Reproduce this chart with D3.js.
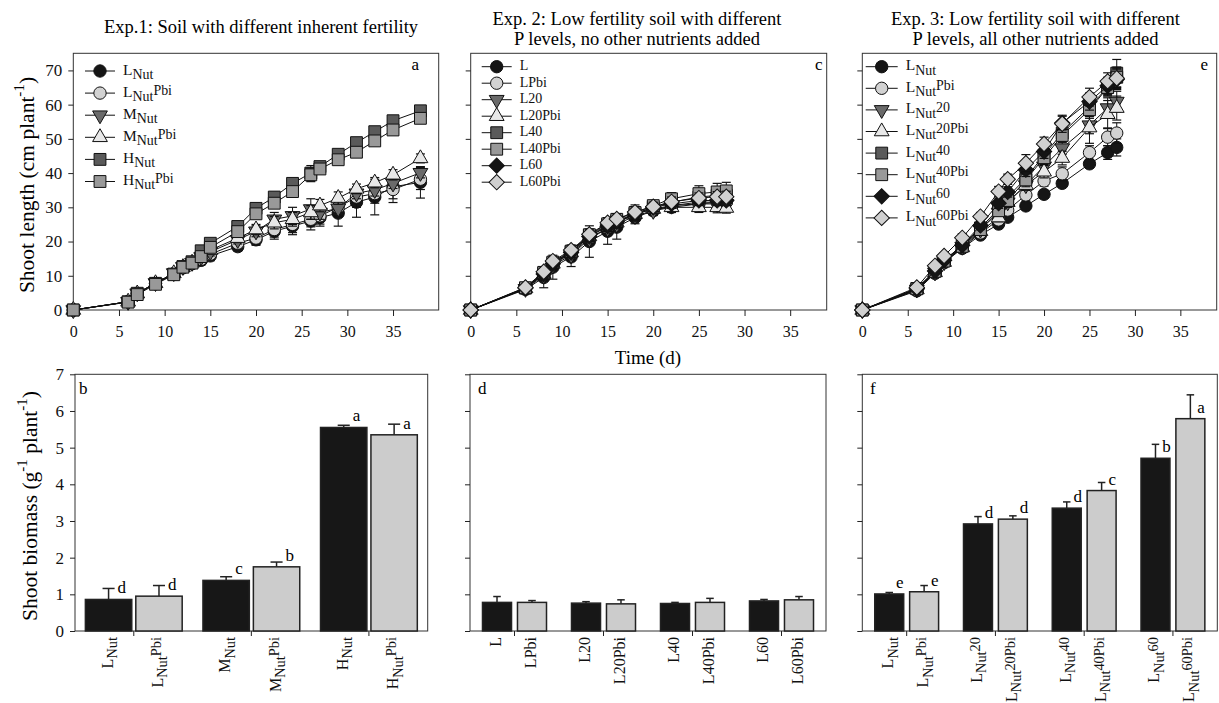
<!DOCTYPE html>
<html>
<head>
<meta charset="utf-8">
<script src="https://cdn.jsdelivr.net/npm/d3@7"></script>
<style>
  body { margin: 0; background: #fff; }
  svg { font-family: "Liberation Serif", "Times New Roman", serif; }
</style>
</head>
<body>
<script>

// ---- data: shoot length over time (top row) ----
var exp1Times = [0, 6, 7, 9, 11, 12, 13, 14, 15, 18, 20, 22, 24, 26, 27, 29, 31, 33, 35, 38];
var exp1Names = ["L_{Nut}", "L_{Nut}^{Pbi}", "M_{Nut}", "M_{Nut}^{Pbi}", "H_{Nut}", "H_{Nut}^{Pbi}"];
var exp1Length = [
  [0, 2.4, 4.8, 7.8, 10.5, 12.3, 13.5, 14.5, 15.8, 18.5, 20.5, 23.0, 24.5, 26.0, 27.0, 28.3, 31.5, 33.0, 36.0, 37.3],
  [0, 2.4, 4.8, 7.8, 10.6, 12.4, 13.6, 14.8, 16.3, 19.5, 21.0, 23.5, 25.0, 26.5, 27.5, 30.0, 33.0, 34.0, 35.2, 38.2],
  [0, 2.4, 4.9, 7.9, 10.8, 12.6, 13.8, 15.5, 17.0, 20.5, 23.0, 26.5, 27.5, 29.5, 28.5, 29.7, 34.1, 35.1, 37.0, 40.1],
  [0, 2.4, 4.8, 7.8, 10.7, 12.5, 13.8, 15.8, 17.5, 21.0, 23.5, 25.5, 26.5, 28.5, 30.5, 32.7, 35.4, 37.2, 39.5, 44.3],
  [0, 2.4, 4.9, 7.8, 10.5, 12.7, 14.1, 17.3, 19.5, 24.4, 29.7, 33.0, 37.0, 40.0, 41.9, 45.5, 48.9, 52.1, 55.3, 58.2],
  [0, 2.3, 4.5, 7.5, 10.3, 12.5, 13.7, 15.6, 18.3, 22.9, 28.1, 31.2, 34.6, 39.5, 41.2, 43.9, 46.1, 49.4, 52.6, 56.0]
];
var exp1LengthErr = [
  [0, 0.3, 0.5, 0.8, 1.0, 1.0, 1.2, 1.3, 1.4, 1.3, 1.6, 2.3, 2.5, 2.6, 2.5, 3.8, 4.4, 5.2, 3.5, 4.6],
  [0, 0.3, 0.5, 0.8, 1.0, 1.0, 1.2, 1.3, 1.4, 1.3, 1.8, 2.2, 2.4, 2.2, 2.4, 2.8, 3.0, 2.8, 3.8, 3.0],
  [0, 0.3, 0.4, 0.7, 0.9, 0.9, 1.0, 1.1, 1.2, 1.2, 1.6, 2.0, 2.5, 3.0, 2.0, 2.2, 1.6, 1.8, 1.5, 1.5],
  [0, 0.3, 0.4, 0.7, 0.9, 0.9, 1.0, 1.1, 1.2, 1.3, 1.5, 1.8, 2.0, 2.0, 1.8, 1.8, 1.4, 1.5, 1.5, 1.3],
  [0, 0.3, 0.5, 0.6, 0.8, 0.9, 1.0, 1.2, 1.2, 1.3, 1.4, 1.4, 1.3, 2.2, 1.3, 1.2, 1.0, 1.0, 1.0, 1.0],
  [0, 0.3, 0.5, 0.6, 0.8, 0.9, 1.0, 1.2, 1.2, 1.3, 1.4, 1.4, 1.3, 2.0, 1.3, 1.2, 1.0, 1.0, 1.0, 1.0]
];

var exp2Times = [0, 6, 8, 9, 11, 13, 15, 16, 18, 20, 22, 25, 27, 28];
var exp2Names = ["L", "LPbi", "L20", "L20Pbi", "L40", "L40Pbi", "L60", "L60Pbi"];
var exp2Length = [
  [0, 6.0, 9.5, 12.5, 15.5, 20.0, 23.0, 24.2, 27.0, 29.0, 30.0, 31.0, 31.5, 31.5],
  [0, 6.3, 10.5, 13.3, 16.5, 21.0, 24.0, 25.5, 28.0, 29.5, 30.5, 31.5, 31.5, 31.5],
  [0, 6.2, 10.0, 13.0, 16.0, 20.8, 23.8, 25.0, 27.5, 29.0, 30.5, 31.0, 31.0, 31.0],
  [0, 6.3, 10.5, 13.5, 16.8, 21.5, 24.5, 25.5, 28.0, 29.5, 30.0, 30.0, 30.0, 29.8],
  [0, 6.4, 10.8, 13.8, 17.0, 21.8, 24.8, 26.0, 28.2, 30.0, 31.5, 33.0, 33.5, 33.5],
  [0, 6.5, 11.0, 14.0, 17.2, 22.0, 25.2, 26.5, 28.5, 30.5, 32.5, 34.0, 34.5, 34.8],
  [0, 6.4, 10.5, 13.5, 16.8, 21.5, 24.5, 25.8, 28.0, 30.0, 31.0, 32.0, 32.0, 32.0],
  [0, 6.6, 11.2, 14.3, 17.5, 22.1, 25.5, 26.6, 28.6, 30.2, 31.6, 32.7, 33.1, 33.1]
];
var exp2LengthErr = [
  [0, 0.6, 3.0, 3.5, 2.8, 4.6, 3.8, 3.5, 1.8, 1.4, 1.5, 1.6, 1.6, 1.6],
  [0, 0.5, 1.2, 1.2, 1.5, 1.5, 1.5, 1.8, 1.5, 1.3, 1.5, 1.6, 1.8, 1.8],
  [0, 0.5, 1.2, 1.2, 1.5, 1.5, 1.5, 1.6, 1.5, 1.3, 1.4, 1.5, 1.6, 1.6],
  [0, 0.5, 1.0, 1.2, 1.4, 1.5, 1.5, 1.6, 1.5, 1.3, 1.5, 1.5, 1.6, 1.5],
  [0, 0.5, 1.0, 1.1, 1.4, 1.4, 1.5, 1.8, 2.0, 1.2, 1.5, 1.8, 1.8, 1.8],
  [0, 0.5, 1.0, 1.1, 1.4, 1.6, 1.8, 1.6, 2.2, 1.4, 1.8, 2.3, 2.5, 2.5],
  [0, 0.5, 1.0, 1.2, 1.4, 1.5, 1.5, 1.5, 1.5, 1.3, 1.3, 1.5, 1.5, 1.5],
  [0, 0.5, 1.0, 1.2, 1.5, 1.5, 1.5, 1.5, 1.5, 1.3, 1.4, 1.5, 1.5, 1.6]
];

var exp3Times = [0, 6, 8, 9, 11, 13, 15, 16, 18, 20, 22, 25, 27, 28];
var exp3Names = ["L_{Nut}", "L_{Nut}^{Pbi}", "L_{Nut}^{20}", "L_{Nut}^{20Pbi}",
                 "L_{Nut}^{40}", "L_{Nut}^{40Pbi}", "L_{Nut}^{60}", "L_{Nut}^{60Pbi}"];
var exp3Length = [
  [0, 5.6, 10.7, 13.8, 18.0, 21.9, 25.1, 27.1, 30.4, 33.8, 37.0, 42.7, 46.0, 47.5],
  [0, 5.8, 11.0, 14.0, 18.2, 22.5, 26.3, 29.2, 33.6, 37.7, 39.8, 46.0, 50.5, 51.7],
  [0, 6.0, 11.0, 14.0, 18.5, 23.5, 28.5, 31.5, 36.5, 42.0, 47.3, 54.0, 59.0, 60.9],
  [0, 6.0, 11.0, 14.0, 18.3, 23.0, 27.0, 31.5, 36.5, 40.4, 44.4, 53.3, 57.2, 59.0],
  [0, 6.3, 11.5, 14.5, 18.8, 24.0, 29.5, 33.0, 38.5, 45.3, 51.7, 59.3, 65.1, 69.2],
  [0, 6.2, 11.3, 14.3, 18.6, 23.5, 29.0, 32.0, 38.0, 44.5, 51.0, 58.5, 65.0, 68.0],
  [0, 6.2, 11.4, 14.5, 18.9, 24.7, 31.2, 34.5, 41.0, 46.3, 54.6, 60.9, 65.5, 67.4],
  [0, 6.6, 12.9, 15.8, 21.1, 27.3, 34.6, 38.2, 42.9, 48.5, 54.4, 62.2, 66.8, 67.7]
];
var exp3LengthErr = [
  [0, 0.5, 0.9, 0.8, 1.0, 1.0, 1.2, 1.0, 1.0, 1.2, 1.0, 1.0, 2.0, 2.5],
  [0, 0.5, 0.8, 0.8, 1.0, 1.0, 1.2, 1.5, 1.5, 1.5, 2.0, 2.0, 2.5, 3.0],
  [0, 0.5, 0.8, 0.8, 1.0, 1.2, 1.2, 1.5, 1.5, 1.5, 1.8, 2.5, 3.0, 3.0],
  [0, 0.5, 0.8, 0.8, 1.0, 1.2, 1.2, 1.5, 1.5, 1.8, 2.0, 4.6, 4.0, 3.5],
  [0, 0.5, 0.8, 0.8, 1.0, 1.2, 1.5, 1.5, 2.0, 2.0, 2.5, 2.5, 2.5, 4.0],
  [0, 0.5, 0.8, 0.8, 1.0, 1.2, 1.5, 1.5, 2.0, 2.0, 2.0, 2.5, 2.5, 3.0],
  [0, 0.5, 0.8, 0.8, 1.0, 1.2, 1.5, 1.5, 2.0, 2.0, 2.0, 2.5, 2.5, 3.0],
  [0, 0.5, 0.8, 0.8, 1.2, 1.2, 1.5, 1.5, 2.5, 2.0, 2.5, 2.6, 2.5, 3.0]
];

var lengthTicks = [0, 10, 20, 30, 40, 50, 60, 70];
var timeTicks = [0, 5, 10, 15, 20, 25, 30, 35];

// ---- data: shoot biomass (bottom row) ----
var exp1BarNames = ["L_{Nut}", "L_{Nut}^{Pbi}", "M_{Nut}", "M_{Nut}^{Pbi}", "H_{Nut}", "H_{Nut}^{Pbi}"];
var exp1Biomass = [0.86, 0.95, 1.38, 1.75, 5.55, 5.35];
var exp1BiomassErr = [0.30, 0.29, 0.10, 0.13, 0.06, 0.29];
var exp1Letters = ["d", "d", "c", "b", "a", "a"];

var exp2BarNames = ["L", "LPbi", "L20", "L20Pbi", "L40", "L40Pbi", "L60", "L60Pbi"];
var exp2Biomass = [0.78, 0.78, 0.76, 0.74, 0.75, 0.78, 0.82, 0.85];
var exp2BiomassErr = [0.16, 0.05, 0.04, 0.11, 0.03, 0.11, 0.04, 0.09];

var exp3BarNames = ["L_{Nut}", "L_{Nut}^{Pbi}", "L_{Nut}^{20}", "L_{Nut}^{20Pbi}",
                    "L_{Nut}^{40}", "L_{Nut}^{40Pbi}", "L_{Nut}^{60}", "L_{Nut}^{60Pbi}"];
var exp3Biomass = [1.01, 1.07, 2.92, 3.05, 3.35, 3.83, 4.71, 5.79];
var exp3BiomassErr = [0.04, 0.17, 0.20, 0.09, 0.17, 0.22, 0.38, 0.65];
var exp3Letters = ["e", "e", "d", "d", "d", "c", "b", "a"];

var biomassTicks = [0, 1, 2, 3, 4, 5, 6, 7];

// ---- marker styles ----
var shapes6 = ["circle", "circle", "triDown", "triUp", "square", "square"];
var fills6 = ["#151515", "#d2d2d2", "#6a6a6a", "#e8e8e8", "#5a5a5a", "#999999"];
var shapes8 = ["circle", "circle", "triDown", "triUp", "square", "square", "diamond", "diamond"];
var fills8 = ["#151515", "#d2d2d2", "#6a6a6a", "#e8e8e8", "#5a5a5a", "#999999", "#151515", "#d0d0d0"];

// text shifts for index labels (legend / categories) and for axis titles
var labelScript = {sub: 0.28, sup: -0.12, scale: 0.9};
var titleScript = {sub: 0.3, sup: -0.45, scale: 0.7};


window.onload = function() {
  main();
};


function main() {

  var svg = d3.select("body")
              .append("svg")
              .attr("width", 1219)
              .attr("height", 703);

  svg.append("rect")
     .attr("width", 1219)
     .attr("height", 703)
     .attr("fill", "#fff");

  // top row: line plots
  var topPanels = [
    {times: exp1Times, vals: exp1Length, err: exp1LengthErr, names: exp1Names, shapes: shapes6, fills: fills6,
     left: 73.3, right: 438.7, xMax: 40, tag: "a", tagX: 411.5, labels: true,
     leg: {x: 100, y: 71, step: 22.1, font: 15.5, line: 15}},
    {times: exp2Times, vals: exp2Length, err: exp2LengthErr, names: exp2Names, shapes: shapes8, fills: fills8,
     left: 470.7, right: 826.7, xMax: 39, tag: "c", tagX: 815, labels: false,
     leg: {x: 496.7, y: 66.7, step: 16.5, font: 14, line: 15}},
    {times: exp3Times, vals: exp3Length, err: exp3LengthErr, names: exp3Names, shapes: shapes8, fills: fills8,
     left: 862.3, right: 1216.7, xMax: 39, tag: "e", tagX: 1200.5, labels: false,
     leg: {x: 881.7, y: 66.7, step: 21.6, font: 15.5, line: 16}}
  ];
  topPanels.forEach(function(p) {
    linePanel(svg, p);
  });

  // bottom row: bar charts
  var bottomPanels = [
    {names: exp1BarNames, vals: exp1Biomass, err: exp1BiomassErr, letters: exp1Letters,
     left: 75, right: 427.7, padIn: 0.08, padOut: 0.206, tag: "b", tagX: 79, labels: true},
    {names: exp2BarNames, vals: exp2Biomass, err: exp2BiomassErr, letters: null,
     left: 470, right: 826, padIn: 0.17, padOut: 0.357, tag: "d", tagX: 478, labels: false},
    {names: exp3BarNames, vals: exp3Biomass, err: exp3BiomassErr, letters: exp3Letters,
     left: 862.3, right: 1217.3, padIn: 0.17, padOut: 0.357, tag: "f", tagX: 870, labels: false}
  ];
  bottomPanels.forEach(function(p) {
    barPanel(svg, p);
  });

  // titles
  svg.append("text").attr("x", 261).attr("y", 33).attr("text-anchor", "middle")
     .style("font-size", "18.5px").text("Exp.1: Soil with different inherent fertility");
  svg.append("text").attr("x", 637).attr("y", 25).attr("text-anchor", "middle")
     .style("font-size", "18.5px").text("Exp. 2: Low fertility soil with different");
  svg.append("text").attr("x", 637).attr("y", 45).attr("text-anchor", "middle")
     .style("font-size", "18.5px").text("P levels, no other nutrients added");
  svg.append("text").attr("x", 1035.5).attr("y", 25).attr("text-anchor", "middle")
     .style("font-size", "18.5px").text("Exp. 3: Low fertility soil with different");
  svg.append("text").attr("x", 1035.5).attr("y", 45).attr("text-anchor", "middle")
     .style("font-size", "18.5px").text("P levels, all other nutrients added");

  // axis titles
  var yl1 = svg.append("text")
               .attr("transform", "translate(34,185) rotate(-90)")
               .attr("text-anchor", "middle")
               .style("font-size", "21.5px");
  richText(yl1, "Shoot length (cm plant^{-1})", 21.5, titleScript);

  var yl2 = svg.append("text")
               .attr("transform", "translate(37,506) rotate(-90)")
               .attr("text-anchor", "middle")
               .style("font-size", "21.5px");
  richText(yl2, "Shoot biomass (g^{-1} plant^{-1})", 21.5, titleScript);

  svg.append("text").attr("x", 648).attr("y", 364).attr("text-anchor", "middle")
     .style("font-size", "19px").text("Time (d)");
};


function richText(textSel, str, fs, script) {
  /*
  Appends tspans to a text element, "_{..}" is subscript
  and "^{..}" is superscript.
  */
  var re = /([_^])\{([^}]*)\}|([^_^]+)/g;
  var m;
  var shift = 0;
  while ((m = re.exec(str)) !== null) {
    var target = 0;
    var size = fs;
    var txt = m[3];
    if (m[1] === "_") {
      target = script.sub * fs;
      size = fs * script.scale;
      txt = m[2];
    } else if (m[1] === "^") {
      target = script.sup * fs;
      size = fs * script.scale;
      txt = m[2];
    }
    textSel.append("tspan")
           .attr("dy", target - shift)
           .style("font-size", size + "px")
           .text(txt);
    shift = target;
  }
};


function markerPath(shape) {
  // symbol paths for the markers
  if (shape === "circle") return d3.symbol(d3.symbolCircle, 120)();
  if (shape === "square") return d3.symbol(d3.symbolSquare, 140)();
  if (shape === "diamond") return d3.symbol(d3.symbolSquare, 118)();
  return d3.symbol(d3.symbolTriangle, 95)();
};


function markerRotate(shape) {
  if (shape === "triDown") return 180;
  if (shape === "diamond") return 45;
  return 0;
};


function styleAxis(g, fs) {
  g.select(".domain").remove();
  g.selectAll("line").attr("stroke", "#222");
  g.selectAll("text")
   .attr("fill", "#111")
   .style("font-family", "'Liberation Serif', 'Times New Roman', serif")
   .style("font-size", fs + "px");
};


function linePanel(svg, p) {
  /*
  Draws one shoot length panel with lines, error bars,
  markers and legend.
  */
  var top = 53.3;
  var bottom = 310;
  var x = d3.scaleLinear().domain([0, p.xMax]).range([p.left, p.right]);
  var y = d3.scaleLinear().domain([0, 75]).range([bottom, top]);

  // frame
  svg.append("rect")
     .attr("x", p.left).attr("y", top)
     .attr("width", p.right - p.left).attr("height", bottom - top)
     .attr("fill", "none").attr("stroke", "#333").attr("stroke-width", 1);

  // axes
  var xAxis = svg.append("g")
                 .attr("transform", "translate(0," + bottom + ")")
                 .call(d3.axisBottom(x).tickValues(timeTicks).tickSize(6).tickPadding(10)
                         .tickFormat(d3.format("d")));
  styleAxis(xAxis, 16);

  var yAx = d3.axisLeft(y).tickValues(lengthTicks).tickSize(5).tickPadding(6)
              .tickFormat(d3.format("d"));
  if (!p.labels) yAx.tickFormat("");
  var yAxis = svg.append("g")
                 .attr("transform", "translate(" + p.left + ",0)")
                 .call(yAx);
  styleAxis(yAxis, 17);

  var line = d3.line()
               .x(function(d, i) { return x(p.times[i]); })
               .y(function(d) { return y(d); });

  p.vals.forEach(function(series, s) {
    var g = svg.append("g");

    g.append("path")
     .attr("d", line(series))
     .attr("fill", "none")
     .attr("stroke", "#111")
     .attr("stroke-width", 1);

    // error bars
    series.forEach(function(v, i) {
      var e = p.err[s][i];
      if (!e) return;
      var cx = x(p.times[i]);
      g.append("line").attr("x1", cx).attr("x2", cx)
       .attr("y1", y(v - e)).attr("y2", y(v + e))
       .attr("stroke", "#111").attr("stroke-width", 1);
      [v - e, v + e].forEach(function(w) {
        g.append("line").attr("x1", cx - 4.5).attr("x2", cx + 4.5)
         .attr("y1", y(w)).attr("y2", y(w))
         .attr("stroke", "#111").attr("stroke-width", 1.2);
      });
    });

    // markers
    g.selectAll(".m")
     .data(series)
     .enter()
     .append("path")
     .attr("d", markerPath(p.shapes[s]))
     .attr("transform", function(d, i) {
       return "translate(" + x(p.times[i]) + "," + y(d) + ") rotate(" + markerRotate(p.shapes[s]) + ")";
     })
     .attr("fill", p.fills[s])
     .attr("stroke", "#111")
     .attr("stroke-width", 1);
  });

  // legend
  p.names.forEach(function(name, s) {
    var ly = p.leg.y + s * p.leg.step;
    svg.append("line")
       .attr("x1", p.leg.x - p.leg.line).attr("x2", p.leg.x + p.leg.line)
       .attr("y1", ly).attr("y2", ly)
       .attr("stroke", "#111").attr("stroke-width", 1);
    svg.append("path")
       .attr("d", markerPath(p.shapes[s]))
       .attr("transform", "translate(" + p.leg.x + "," + ly + ") rotate(" + markerRotate(p.shapes[s]) + ")")
       .attr("fill", p.fills[s])
       .attr("stroke", "#111")
       .attr("stroke-width", 1);
    var t = svg.append("text")
               .attr("x", p.leg.x + p.leg.line + 8)
               .attr("y", ly + 3.5)
               .style("font-size", p.leg.font + "px")
               .attr("fill", "#111");
    richText(t, name, p.leg.font, labelScript);
  });

  // panel tag
  svg.append("text").attr("x", p.tagX).attr("y", 70)
     .style("font-size", "17px").text(p.tag);
};


function barPanel(svg, p) {
  /*
  Draws one shoot biomass panel with grouped bars,
  error bars, letters and rotated category labels.
  */
  var top = 374.3;
  var bottom = 631;
  var nGroups = p.names.length / 2;
  var gx = d3.scaleBand().domain(d3.range(nGroups)).range([p.left, p.right]);
  var sub = d3.scaleBand().domain([0, 1]).range([0, gx.bandwidth()])
              .paddingInner(p.padIn).paddingOuter(p.padOut);
  var y = d3.scaleLinear().domain([0, 7]).range([bottom, top]);
  var bw = sub.bandwidth();
  var cap = bw * 0.13;

  svg.append("rect")
     .attr("x", p.left).attr("y", top)
     .attr("width", p.right - p.left).attr("height", bottom - top)
     .attr("fill", "none").attr("stroke", "#333").attr("stroke-width", 1);

  var yAx = d3.axisLeft(y).tickValues(biomassTicks).tickSize(5).tickPadding(6)
              .tickFormat(d3.format("d"));
  if (!p.labels) yAx.tickFormat("");
  var yAxis = svg.append("g")
                 .attr("transform", "translate(" + p.left + ",0)")
                 .call(yAx);
  styleAxis(yAxis, 17);

  // group tick marks
  d3.range(nGroups).forEach(function(g) {
    var cx = gx(g) + gx.bandwidth() / 2;
    svg.append("line").attr("x1", cx).attr("x2", cx)
       .attr("y1", bottom).attr("y2", bottom + 5)
       .attr("stroke", "#222");
  });

  p.vals.forEach(function(v, i) {
    var g = Math.floor(i / 2);
    var k = i % 2;
    var bx = gx(g) + sub(k);
    var cx = bx + bw / 2;
    var e = p.err[i];

    // error bar (upper only), drawn below the bar
    svg.append("line").attr("x1", cx).attr("x2", cx)
       .attr("y1", y(v)).attr("y2", y(v + e))
       .attr("stroke", "#222").attr("stroke-width", 1.5);
    svg.append("line").attr("x1", cx - cap).attr("x2", cx + cap)
       .attr("y1", y(v + e)).attr("y2", y(v + e))
       .attr("stroke", "#222").attr("stroke-width", 1.5);

    svg.append("rect")
       .attr("x", bx).attr("y", y(v))
       .attr("width", bw).attr("height", bottom - y(v))
       .attr("fill", k === 0 ? "#171717" : "#cccccc")
       .attr("stroke", "#222").attr("stroke-width", 1.5);

    if (p.letters) {
      svg.append("text")
         .attr("x", cx + cap + 3)
         .attr("y", y(v) - 6)
         .style("font-size", "17px")
         .text(p.letters[i]);
    }

    // rotated category label
    var t = svg.append("text")
               .attr("transform", "translate(" + (cx + 4) + "," + (bottom + 6) + ") rotate(-90)")
               .attr("text-anchor", "end")
               .style("font-size", "16px")
               .attr("fill", "#111");
    richText(t, p.names[i], 16, labelScript);
  });

  svg.append("text").attr("x", p.tagX).attr("y", 394)
     .style("font-size", "17px").text(p.tag);
};

</script>
</body>
</html>
